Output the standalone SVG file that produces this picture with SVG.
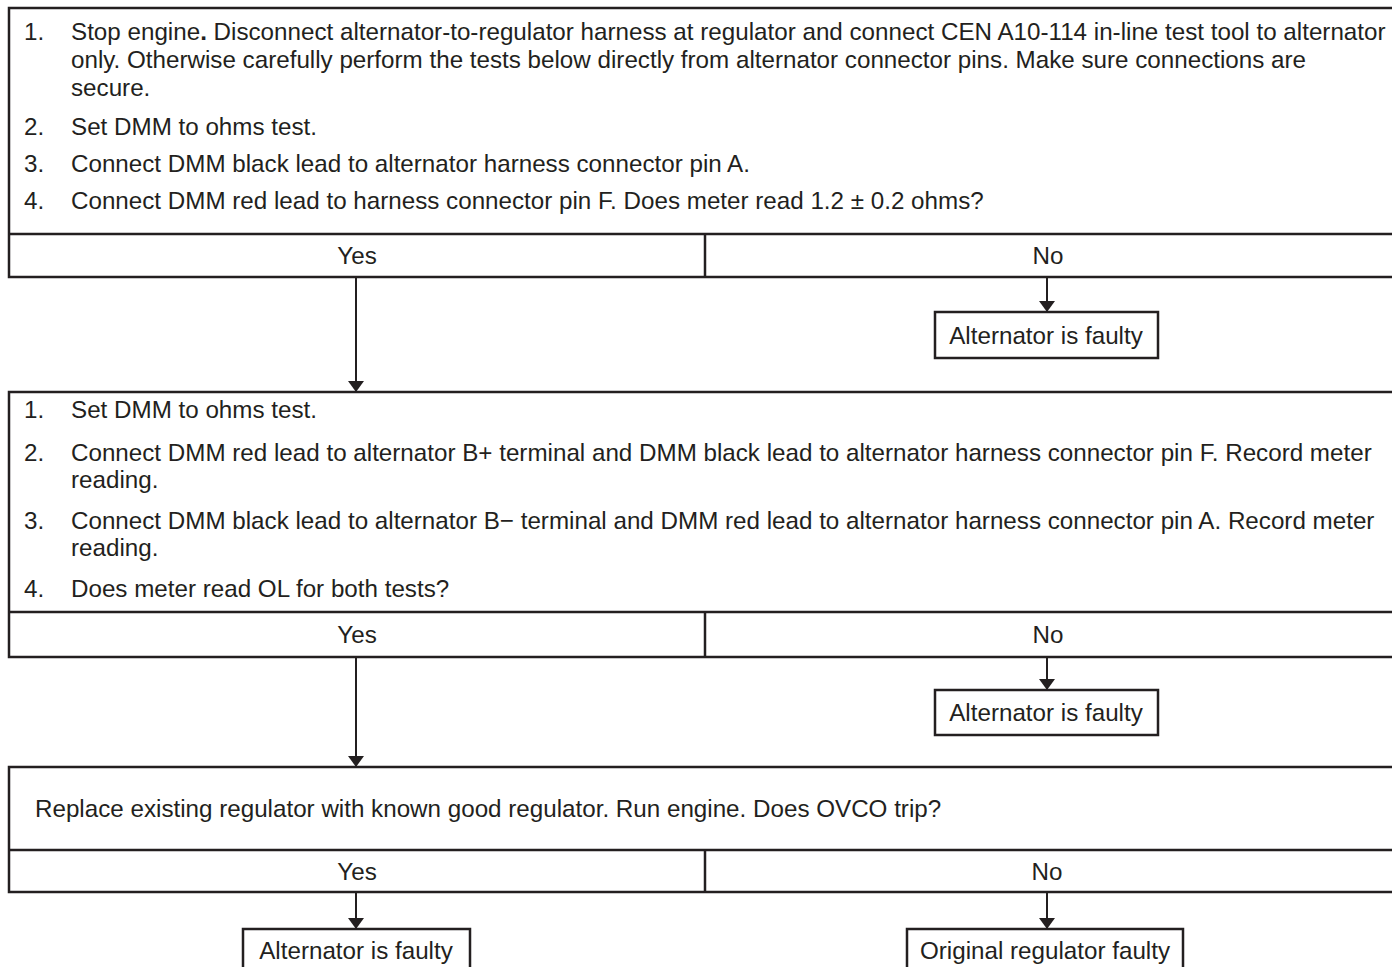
<svg xmlns="http://www.w3.org/2000/svg" width="1392" height="967" viewBox="0 0 1392 967">
<style>
.box{fill:#fff;stroke:#231f20;stroke-width:2.5}
.ln{stroke:#231f20;stroke-width:2.5;fill:none}
.cn{stroke:#231f20;stroke-width:2;fill:none}
text{font-family:"Liberation Sans",Arial,sans-serif;font-size:24.2px;fill:#231f20}
.c{text-anchor:middle}
</style>
<defs>
<marker id="ah" viewBox="0 0 11 16" refX="11" refY="8" markerWidth="11" markerHeight="16" markerUnits="userSpaceOnUse" orient="auto">
<path d="M0,0 L11,8 L0,16 Z" fill="#231f20"/>
</marker>
</defs>
<rect width="1392" height="967" fill="#fff"/>

<g id="step1">
<rect class="box" x="9" y="8" width="1400" height="269"/>
<line class="ln" x1="9" y1="234" x2="1400" y2="234"/>
<line class="ln" x1="705" y1="234" x2="705" y2="277"/>
<text x="24" y="40">1.</text>
<text x="71" y="40">Stop engine<tspan font-weight="bold">.</tspan> Disconnect alternator-to-regulator harness at regulator and connect CEN A10-114 in-line test tool to alternator</text>
<text x="71" y="68">only. Otherwise carefully perform the tests below directly from alternator connector pins. Make sure connections are</text>
<text x="71" y="96">secure.</text>
<text x="24" y="135">2.</text>
<text x="71" y="135">Set DMM to ohms test.</text>
<text x="24" y="172">3.</text>
<text x="71" y="172">Connect DMM black lead to alternator harness connector pin A.</text>
<text x="24" y="209">4.</text>
<text x="71" y="209">Connect DMM red lead to harness connector pin F. Does meter read 1.2 ± 0.2 ohms?</text>
<text class="c" x="357" y="264">Yes</text>
<text class="c" x="1048" y="264">No</text>
</g>

<g id="fault1">
<rect class="box" x="935" y="312" width="223" height="46"/>
<text class="c" x="1046" y="344">Alternator is faulty</text>
</g>

<g id="step2">
<rect class="box" x="9" y="392" width="1400" height="265"/>
<line class="ln" x1="9" y1="612" x2="1400" y2="612"/>
<line class="ln" x1="705" y1="612" x2="705" y2="657"/>
<text x="24" y="418">1.</text>
<text x="71" y="418">Set DMM to ohms test.</text>
<text x="24" y="461">2.</text>
<text x="71" y="461">Connect DMM red lead to alternator B+ terminal and DMM black lead to alternator harness connector pin F. Record meter</text>
<text x="71" y="488">reading.</text>
<text x="24" y="529">3.</text>
<text x="71" y="529">Connect DMM black lead to alternator B− terminal and DMM red lead to alternator harness connector pin A. Record meter</text>
<text x="71" y="556">reading.</text>
<text x="24" y="597">4.</text>
<text x="71" y="597">Does meter read OL for both tests?</text>
<text class="c" x="357" y="643">Yes</text>
<text class="c" x="1048" y="643">No</text>
</g>

<g id="fault2">
<rect class="box" x="935" y="690" width="223" height="45"/>
<text class="c" x="1046" y="721">Alternator is faulty</text>
</g>

<g id="step3">
<rect class="box" x="9" y="767" width="1400" height="125"/>
<line class="ln" x1="9" y1="850" x2="1400" y2="850"/>
<line class="ln" x1="705" y1="850" x2="705" y2="892"/>
<text x="35" y="817">Replace existing regulator with known good regulator. Run engine. Does OVCO trip?</text>
<text class="c" x="357" y="880">Yes</text>
<text class="c" x="1047" y="880">No</text>
</g>

<g id="fault3">
<rect class="box" x="243" y="929" width="227" height="50"/>
<text class="c" x="356" y="959">Alternator is faulty</text>
</g>

<g id="regfault">
<rect class="box" x="907" y="929" width="276" height="50"/>
<text class="c" x="1045" y="959">Original regulator faulty</text>
</g>

<g id="connectors">
<line class="cn" x1="1047" y1="277" x2="1047" y2="312" marker-end="url(#ah)"/>
<line class="cn" x1="356" y1="277" x2="356" y2="392" marker-end="url(#ah)"/>
<line class="cn" x1="1047" y1="657" x2="1047" y2="690" marker-end="url(#ah)"/>
<line class="cn" x1="356" y1="657" x2="356" y2="767" marker-end="url(#ah)"/>
<line class="cn" x1="356" y1="892" x2="356" y2="929" marker-end="url(#ah)"/>
<line class="cn" x1="1047" y1="892" x2="1047" y2="929" marker-end="url(#ah)"/>
</g>
</svg>
